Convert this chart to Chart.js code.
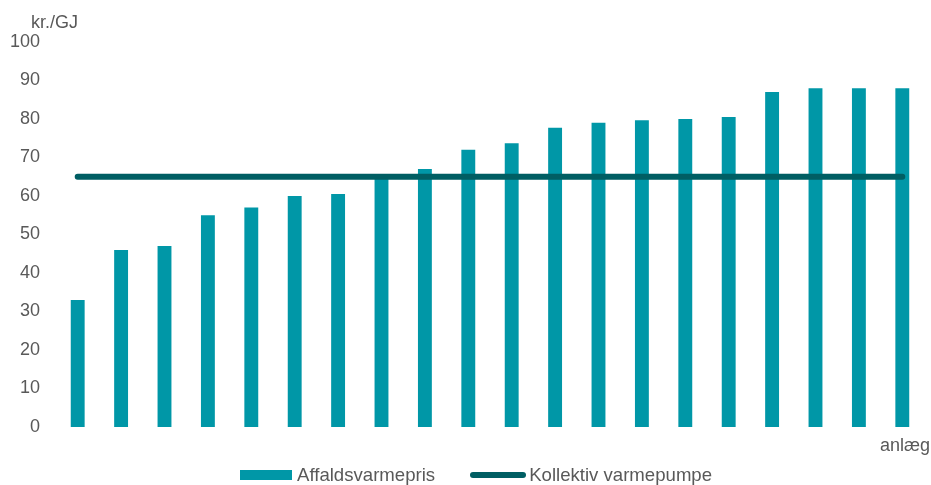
<!DOCTYPE html>
<html>
<head>
<meta charset="utf-8">
<script src="https://cdn.jsdelivr.net/npm/chart.js@4"></script>
<style>
  html, body { margin: 0; padding: 0; background: #fff; }
  #wrap { position: relative; width: 931px; height: 485px; }
  #legend {
    position: absolute; left: 240px; top: 463px; height: 24px;
    display: flex; align-items: center;
    font-family: "Liberation Sans", Arial, sans-serif; font-size: 18.6px; color: #595959;
  }
  .item { display: flex; align-items: center; margin-right: 35px; }
  .swatch { display: inline-block; margin-right: 5px; }
</style>
</head>
<body>
<div id="wrap">
  <canvas id="myChart" width="931" height="485"></canvas>
  <div id="legend"></div>
</div>
<script>
// 値
var categories = ['1', '2', '3', '4', '5', '6', '7', '8', '9', '10',
                  '11', '12', '13', '14', '15', '16', '17', '18', '19', '20'];
var affaldsvarmepris = [33, 46, 47, 55, 57, 60, 60.5, 65, 67, 72,
                        73.7, 77.7, 79, 79.7, 80, 80.5, 87, 88, 88, 88];
var kollektivVarmepumpe = [65, 65, 65, 65, 65, 65, 65, 65, 65, 65,
                           65, 65, 65, 65, 65, 65, 65, 65, 65, 65];
var yTicks = [0, 10, 20, 30, 40, 50, 60, 70, 80, 90, 100];
var yUnit = 'kr./GJ';
var xTitle = 'anlæg';

var barColor = '#0097A7';
var lineColor = '#005E63';
var textColor = '#595959';
var fontFamily = '"Liberation Sans", Arial, sans-serif';

// 軸ラベル（単位と x 軸タイトル）
var axisLabels = {
    id: 'axisLabels',
    afterDraw: function(chart) {
        var c = chart.ctx;
        c.save();
        c.fillStyle = textColor;
        c.font = '18px ' + fontFamily;
        c.textBaseline = 'alphabetic';
        c.textAlign = 'left';
        c.fillText(yUnit, 31, 28);
        c.textAlign = 'right';
        c.fillText(xTitle, 930, 451);
        c.restore();
    }
};

document.addEventListener('DOMContentLoaded', function() {
    var ctx = document.getElementById('myChart').getContext('2d');
    var myChart = new Chart(ctx, {
        data: {
            labels: categories,
            datasets: [{
                type: 'line',
                label: 'Kollektiv varmepumpe',
                data: kollektivVarmepumpe,
                borderColor: lineColor,
                backgroundColor: lineColor,
                borderWidth: 6,
                borderCapStyle: 'round',
                pointRadius: 0,
                pointHoverRadius: 0,
                tension: 0,
                order: 0
            }, {
                type: 'bar',
                label: 'Affaldsvarmepris',
                data: affaldsvarmepris,
                backgroundColor: barColor,
                borderWidth: 0,
                barPercentage: 0.32,
                categoryPercentage: 1,
                order: 1
            }]
        },
        options: {
            responsive: false,
            animation: false,
            layout: { padding: { left: 10, right: 7, top: 42, bottom: 58 } },
            plugins: {
                legend: { display: false },
                tooltip: { enabled: false }
            },
            scales: {
                x: {
                    display: false,
                    offset: true
                },
                y: {
                    min: 0,
                    max: 100,
                    afterBuildTicks: function(axis) {
                        axis.ticks = yTicks.map(function(v) { return { value: v }; });
                    },
                    afterFit: function(axis) {
                        axis.width = 46;
                    },
                    grid: { display: false, drawTicks: false },
                    border: { display: false },
                    ticks: {
                        color: textColor,
                        padding: 16,
                        font: { family: fontFamily, size: 18 }
                    }
                }
            }
        },
        plugins: [axisLabels]
    });

    // 凡例（HTML）
    var legend = document.getElementById('legend');
    [1, 0].forEach(function(i) {
        var ds = myChart.data.datasets[i];
        var item = document.createElement('span');
        item.className = 'item';
        var sw = document.createElement('span');
        sw.className = 'swatch';
        if (ds.type === 'bar') {
            sw.style.width = '52px';
            sw.style.height = '10px';
            sw.style.background = ds.backgroundColor;
        } else {
            sw.style.width = '56px';
            sw.style.height = '6px';
            sw.style.borderRadius = '3px';
            sw.style.background = ds.borderColor;
            sw.style.marginRight = '3px';
        }
        item.appendChild(sw);
        item.appendChild(document.createTextNode(ds.label));
        legend.appendChild(item);
    });
});
</script>
</body>
</html>
